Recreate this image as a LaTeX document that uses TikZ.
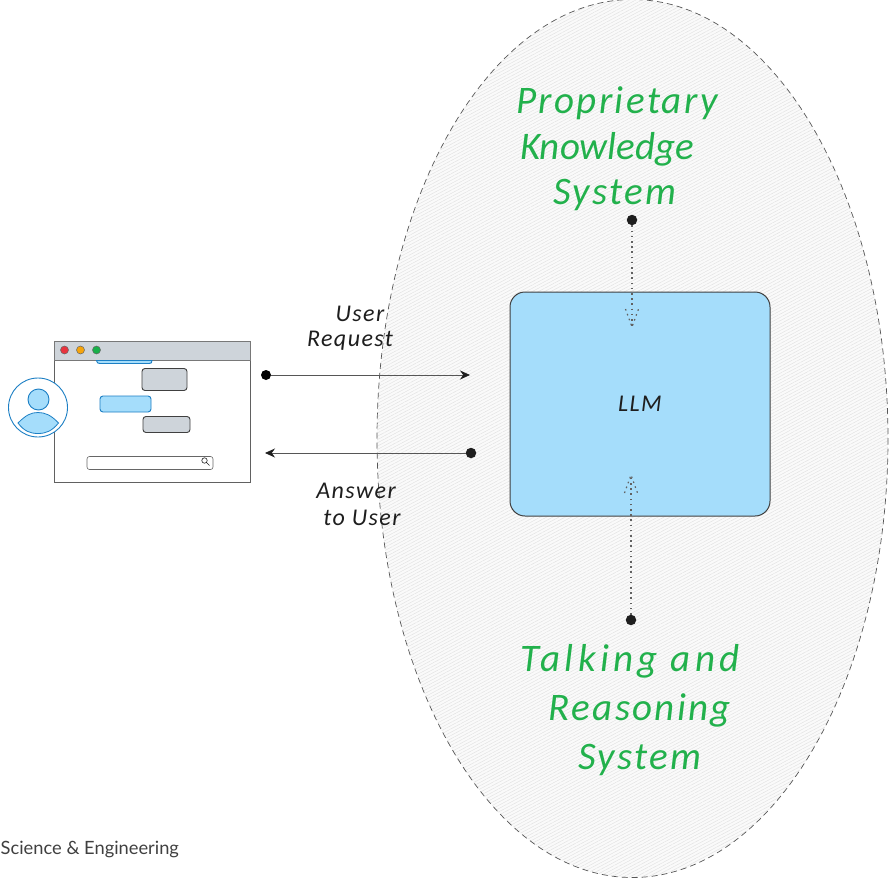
\documentclass[tikz,border=0pt]{standalone}
\usepackage{fontspec}
\setmainfont{Open Sans}
\newfontfamily\handfont[LetterSpace=6]{Carlito Italic}
\newfontfamily\handtight{Carlito Italic}
\newfontfamily\handwide[LetterSpace=11]{Carlito Italic}
\newfontfamily\plainfont{Lato}
\usetikzlibrary{arrows.meta,patterns.meta,shapes.geometric}
\definecolor{inkblack}{HTML}{1E1E1E}
\definecolor{skyfill}{HTML}{A5DDFB}
\definecolor{skyline}{HTML}{1C7FC4}
\definecolor{bargray}{HTML}{CED4DA}
\definecolor{handgreen}{HTML}{22B14C}
\definecolor{btnred}{HTML}{E8343F}
\definecolor{btnorange}{HTML}{F5A40C}
\definecolor{btngreen}{HTML}{18B04A}
\tikzset{
  x=1pt,y=-1pt,
  greenlabel/.style={text=handgreen,font=\handfont\fontsize{39}{39}\selectfont,inner sep=0pt},
  blacklabel/.style={text=inkblack,font=\handfont\fontsize{24}{24}\selectfont,inner sep=0pt},
  bubblegray/.style={draw=inkblack!85,line width=.9pt,fill=bargray,rounded corners=3pt},
  bubbleblue/.style={draw=skyline,line width=.9pt,fill=skyfill,rounded corners=3pt},
  dotnode/.style={circle,fill=inkblack,inner sep=0pt,minimum size=10.5pt},
  wire/.style={draw=inkblack!75,line width=.8pt},
  tip/.style={-{Stealth[length=10pt,width=9pt,color=inkblack]}},
  dottedwire/.style={draw=inkblack!70,line width=1.2pt,dash pattern=on 1.6pt off 3.6pt},
  lightbtn/.style={circle,draw=black!60,line width=.5pt,inner sep=0pt,minimum size=8pt},
}
\begin{document}
\begin{tikzpicture}
\useasboundingbox (0,0) rectangle (891,880);
% ellipse
\path[fill=black!2] (632.5,438.5) ellipse [x radius=255.5,y radius=439];
\path[pattern={Lines[angle=28,distance=2.9pt,line width=.5pt]},pattern color=black!11] (632.5,438.5) ellipse [x radius=255.5,y radius=439];
\draw[inkblack!75,line width=.7pt,dash pattern=on 6pt off 4pt] (632.5,438.5) ellipse [x radius=255.5,y radius=439];
% LLM box
\node[draw=inkblack!85,line width=1pt,fill=skyfill,rounded corners=15pt,minimum width=260pt,minimum height=224pt,inner sep=0pt,font=\handfont\fontsize{24}{24}\selectfont,text=inkblack] (llm) at (640,404) {LLM};
% green labels
\node[greenlabel] (prop) at (617,103) {Proprietary};
\node[greenlabel,font=\handtight\fontsize{39}{39}\selectfont] (know) at (607,149) {Knowledge};
\node[greenlabel] (sys1) at (615,195) {System};
\node[greenlabel,font=\handwide\fontsize{39}{39}\selectfont] (talk) at (630,661) {Talking and};
\node[greenlabel] (reas) at (640,710) {Reasoning};
\node[greenlabel] (sys2) at (640,760) {System};
% dotted connectors
\node[dotnode] (topdot) at (632,220) {};
\coordinate (toptip) at (632,327);
\draw[dottedwire] (topdot) -- (toptip);
\draw[dottedwire] (625.5,309) -- (toptip) -- (638.5,309);
\node[dotnode] (botdot) at (631,620) {};
\coordinate (bottip) at (631,475);
\draw[dottedwire] (botdot) -- (bottip);
\draw[dottedwire] (624.5,493) -- (bottip) -- (637.5,493);
% window
\node[draw=inkblack!70,line width=1pt,fill=white,minimum width=196pt,minimum height=141pt,inner sep=0pt] (win) at (152,411.5) {};
\node[draw=inkblack!60,line width=.9pt,fill=bargray,minimum width=196pt,minimum height=19pt,inner sep=0pt] (bar) at (152,350.5) {};
\node[lightbtn,fill=btnred] (btnr) at (64.5,350) {};
\node[lightbtn,fill=btnorange] (btno) at (80.5,350) {};
\node[lightbtn,fill=btngreen] (btng) at (96.5,350) {};
\draw[skyline,line width=.9pt,fill=skyfill] (96.5,360.5) .. controls (97,363) and (98,363.5) .. (100,363.5) -- (149,363.5) .. controls (151,363.5) and (152,363) .. (152,360.5) -- cycle;
\node[bubblegray,minimum width=45pt,minimum height=22pt,inner sep=0pt] (b1) at (164.5,379.5) {};
\node[bubbleblue,minimum width=51pt,minimum height=16pt,inner sep=0pt] (b2) at (125.5,404) {};
\node[bubblegray,minimum width=47pt,minimum height=16pt,inner sep=0pt] (b3) at (166.5,424.5) {};
\node[draw=black!60,line width=.6pt,fill=white,rounded corners=2.5pt,minimum width=126pt,minimum height=13pt,inner sep=0pt] (search) at (150,463) {};
\draw[inkblack,line width=.6pt] (204.5,460.5) circle (2.7pt) (206.5,462.5) -- (209.5,465.5);
% avatar
\node[circle,draw=skyline,line width=.9pt,fill=white,minimum size=59pt,inner sep=0pt] (avatar) at (38,407.5) {};
\node[circle,draw=skyline,line width=.9pt,fill=skyfill,minimum size=21pt,inner sep=0pt] (head) at (38.5,399.5) {};
\draw[skyline,line width=.8pt,fill=skyfill] (18,423) .. controls (26,415) and (31,412.5) .. (38,412.5) .. controls (45,412.5) and (51,415) .. (58.5,423) .. controls (52,431) and (46,433.5) .. (38,433.5) .. controls (30,433.5) and (24,431) .. (18,423) -- cycle;
% arrows
\node[circle,fill=black,inner sep=0pt,minimum size=10pt] (reqdot) at (266,375) {};
\coordinate (reqtip) at (470,375);
\draw[wire,tip] (reqdot) -- (reqtip);
\node[dotnode] (ansdot) at (471,453) {};
\coordinate (anstip) at (265,453);
\draw[wire,tip] (ansdot) -- (anstip);
% labels
\node[blacklabel] (user) at (360,314) {User};
\node[blacklabel] (request) at (350,341) {Request};
\node[blacklabel] (answer) at (356,491) {Answer};
\node[blacklabel] (touser) at (362,518) {to User};
% footer
\node[anchor=west,inner sep=0pt,text=inkblack!85,font=\plainfont\fontsize{18.3}{19}\selectfont] (footer) at (0.5,849) {Science \& Engineering};
\end{tikzpicture}
\end{document}
